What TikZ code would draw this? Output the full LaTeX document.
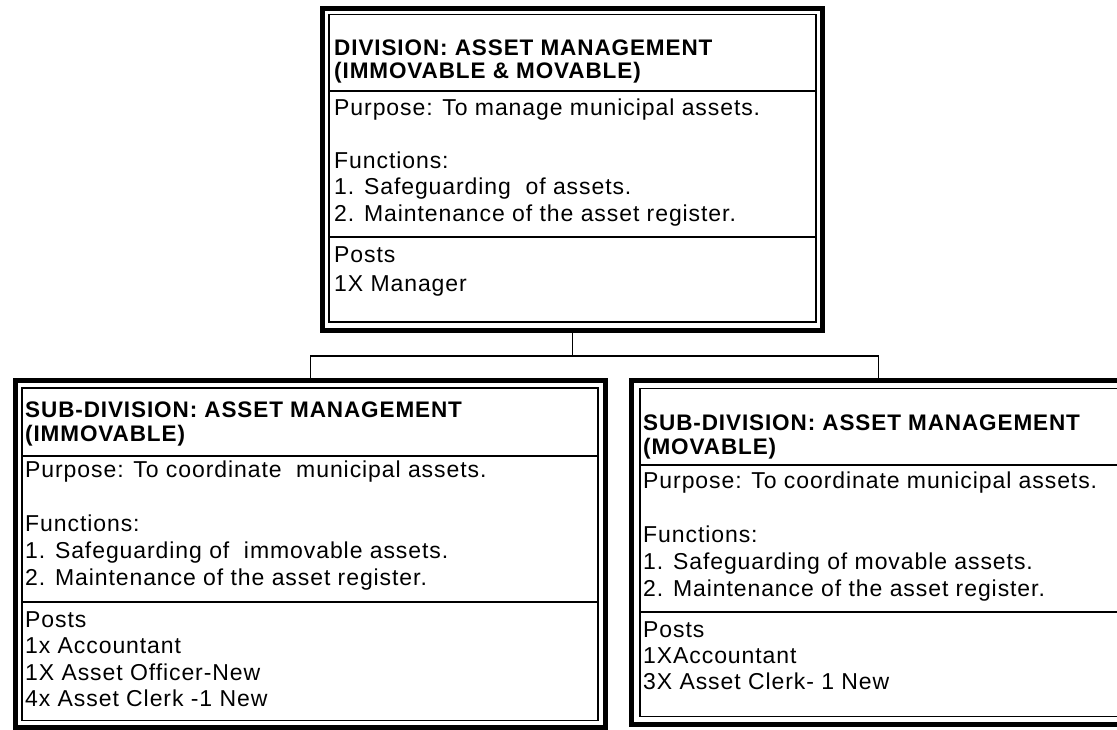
\documentclass[tikz,border=0pt]{standalone}
\usepackage{fontspec}
\setmainfont{Liberation Sans}
\newfontfamily\bodyfont{Liberation Sans}[LetterSpace=4]
\newfontfamily\headfont{Liberation Sans}[LetterSpace=4]
\begin{document}
\begin{tikzpicture}[x=1pt,y=-1pt,
  outerframe/.style={draw,rectangle,line width=5pt,inner sep=0pt},
  innerframe/.style={line width=1.8pt},
  sepline/.style={line width=1.6pt},
  conn/.style={line width=1.3pt},
  bodytxt/.style={anchor=base west,inner sep=0pt,font=\bodyfont\fontsize{23}{26}\selectfont},
  headtxt/.style={anchor=base west,inner sep=0pt,font=\headfont\bfseries\fontsize{22.5}{26}\selectfont}]
\useasboundingbox (0,0) rectangle (1117,729);
\fill[white] (0,0) rectangle (1117,729);

% ---------- frames ----------
\node[outerframe,minimum width=500.5pt,minimum height=321.5pt] (topbox) at (572.25,169.25) {};
\node[outerframe,minimum width=590.5pt,minimum height=347pt] (leftbox) at (310.25,554) {};
\node[outerframe,minimum width=493.5pt,minimum height=344pt] (rightbox) at (878.25,552.5) {};

\draw[innerframe] (329,14.5) rectangle (816,322);
\draw[innerframe] (22,388) rectangle (598,720.5);
\draw[innerframe] (640,388.5) rectangle (1119,716.5);

\draw[sepline] (329,91) -- (816,91);
\draw[sepline] (329,237) -- (816,237);
\draw[sepline] (22,456) -- (598,456);
\draw[sepline] (22,602) -- (598,602);
\draw[sepline] (640,465) -- (1119,465);
\draw[sepline] (640,612) -- (1119,612);

% ---------- connectors ----------
\coordinate (jn) at (573,356);
\draw[conn] (topbox.south) -- (topbox.south |- jn);
\draw[conn] (leftbox.north) |- (jn) -| (rightbox.north);

% ---------- top box text ----------
\node[headtxt] (t1) at (334,55) {DIVISION: ASSET MANAGEMENT};
\node[headtxt] (t2) at (334,78) {(IMMOVABLE \& MOVABLE)};
\node[bodytxt] (t3) at (334,115) {Purpose: To manage municipal assets.};
\node[bodytxt] (t4) at (334,168) {Functions:};
\node[bodytxt] (t5) at (334,194.5) {1. Safeguarding\ \ of assets.};
\node[bodytxt] (t6) at (334,221) {2. Maintenance of the asset register.};
\node[bodytxt] (t7) at (334,262) {Posts};
\node[bodytxt] (t8) at (334,291) {1X Manager};

% ---------- left box text ----------
\node[headtxt] (l1) at (25,417) {SUB-DIVISION: ASSET MANAGEMENT};
\node[headtxt] (l2) at (25,441) {(IMMOVABLE)};
\node[bodytxt] (l3) at (25,477) {Purpose: To coordinate\ \ municipal assets.};
\node[bodytxt] (l4) at (25,531) {Functions:};
\node[bodytxt] (l5) at (25,558) {1. Safeguarding of\ \ immovable assets.};
\node[bodytxt] (l6) at (25,585) {2. Maintenance of the asset register.};
\node[bodytxt] (l7) at (25,627) {Posts};
\node[bodytxt] (l8) at (25,653) {1x Accountant};
\node[bodytxt] (l9) at (25,680) {1X Asset Officer-New};
\node[bodytxt] (l10) at (25,706) {4x Asset Clerk -1 New};

% ---------- right box text ----------
\node[headtxt] (r1) at (643,430) {SUB-DIVISION: ASSET MANAGEMENT};
\node[headtxt] (r2) at (643,454) {(MOVABLE)};
\node[bodytxt] (r3) at (643,488) {Purpose: To coordinate municipal assets.};
\node[bodytxt] (r4) at (643,542) {Functions:};
\node[bodytxt] (r5) at (643,569) {1. Safeguarding of movable assets.};
\node[bodytxt] (r6) at (643,596) {2. Maintenance of the asset register.};
\node[bodytxt] (r7) at (643,637) {Posts};
\node[bodytxt] (r8) at (643,663) {1XAccountant};
\node[bodytxt] (r9) at (643,689) {3X Asset Clerk- 1 New};
\end{tikzpicture}
\end{document}
